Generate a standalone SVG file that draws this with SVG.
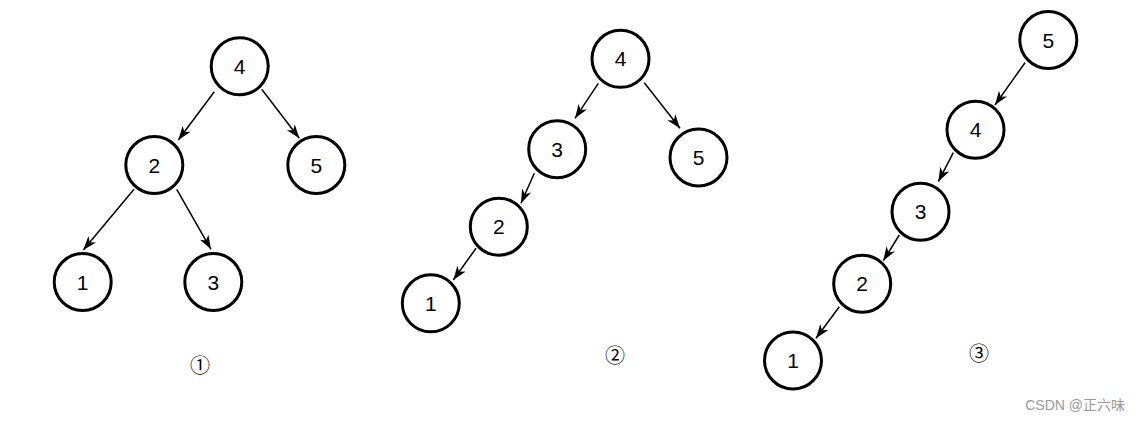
<svg xmlns="http://www.w3.org/2000/svg" width="1140" height="421" viewBox="0 0 1140 421">
<style>
.n circle{fill:#fff;stroke:#000;stroke-width:3}
.n text{font-family:"Liberation Sans",Arial,sans-serif;font-size:21px;fill:#000;text-anchor:middle;dominant-baseline:central}
.e line{stroke:#000;stroke-width:1.5;marker-end:url(#arr)}
.lbl{font-family:"Noto Sans CJK SC","DejaVu Sans",sans-serif;font-size:20px;fill:#000;text-anchor:middle}
.wm{font-family:"Liberation Sans","Noto Sans CJK SC",sans-serif;font-size:14px;fill:#999;text-anchor:end}
</style>
<defs>
<marker id="arr" viewBox="0 0 14 10" refX="14" refY="5" markerWidth="14" markerHeight="10" orient="auto" markerUnits="userSpaceOnUse">
<path d="M0,0 L14,5 L0,10 L4,5 Z" fill="#000"/>
</marker>
</defs>
<rect width="1140" height="421" fill="#fff"/>
<g id="connectors" class="e">
<line x1="214.3" y1="91.7" x2="178.3" y2="140"/>
<line x1="261.7" y1="89.3" x2="299.3" y2="138.3"/>
<line x1="134" y1="189.3" x2="83.3" y2="250"/>
<line x1="176.7" y1="189.3" x2="211" y2="249.3"/>
<line x1="598.3" y1="83.3" x2="575" y2="118.3"/>
<line x1="644.3" y1="82.7" x2="680" y2="128.3"/>
<line x1="534.3" y1="173.3" x2="521" y2="203.3"/>
<line x1="476" y1="248.3" x2="453.3" y2="280"/>
<line x1="1025" y1="62.7" x2="995" y2="105"/>
<line x1="953.3" y1="152.7" x2="938.3" y2="181.7"/>
<line x1="899.3" y1="235" x2="883.3" y2="260.7"/>
<line x1="839.3" y1="306.7" x2="816" y2="338.3"/>
</g>
<g id="t1-4" class="n"><circle cx="239.7" cy="66.3" r="28.5"/><text x="239.7" y="66.3">4</text></g>
<g id="t1-2" class="n"><circle cx="154.3" cy="165" r="28.5"/><text x="154.3" y="165">2</text></g>
<g id="t1-5" class="n"><circle cx="316.3" cy="165" r="28.5"/><text x="316.3" y="165">5</text></g>
<g id="t1-1" class="n"><circle cx="82.7" cy="282" r="28.5"/><text x="82.7" y="282">1</text></g>
<g id="t1-3" class="n"><circle cx="213.3" cy="282" r="28.5"/><text x="213.3" y="282">3</text></g>
<g id="t2-4" class="n"><circle cx="620.5" cy="58.8" r="28.5"/><text x="620.5" y="58.8">4</text></g>
<g id="t2-3" class="n"><circle cx="557.2" cy="149.2" r="28.5"/><text x="557.2" y="149.2">3</text></g>
<g id="t2-5" class="n"><circle cx="698.5" cy="157.5" r="28.5"/><text x="698.5" y="157.5">5</text></g>
<g id="t2-2" class="n"><circle cx="498.8" cy="226.7" r="28.5"/><text x="498.8" y="226.7">2</text></g>
<g id="t2-1" class="n"><circle cx="430.8" cy="303.3" r="28.5"/><text x="430.8" y="303.3">1</text></g>
<g id="t3-5" class="n"><circle cx="1048.3" cy="40" r="28.5"/><text x="1048.3" y="40">5</text></g>
<g id="t3-4" class="n"><circle cx="975.5" cy="129.7" r="28.5"/><text x="975.5" y="129.7">4</text></g>
<g id="t3-3" class="n"><circle cx="920.5" cy="211.7" r="28.5"/><text x="920.5" y="211.7">3</text></g>
<g id="t3-2" class="n"><circle cx="862.2" cy="283.7" r="28.5"/><text x="862.2" y="283.7">2</text></g>
<g id="t3-1" class="n"><circle cx="793" cy="360.5" r="28.5"/><text x="793" y="360.5">1</text></g>
<text class="lbl" x="200" y="373">①</text>
<text class="lbl" x="615" y="363">②</text>
<text class="lbl" x="979" y="361">③</text>
<text class="wm" x="1125" y="410">CSDN @正六味</text>
</svg>
